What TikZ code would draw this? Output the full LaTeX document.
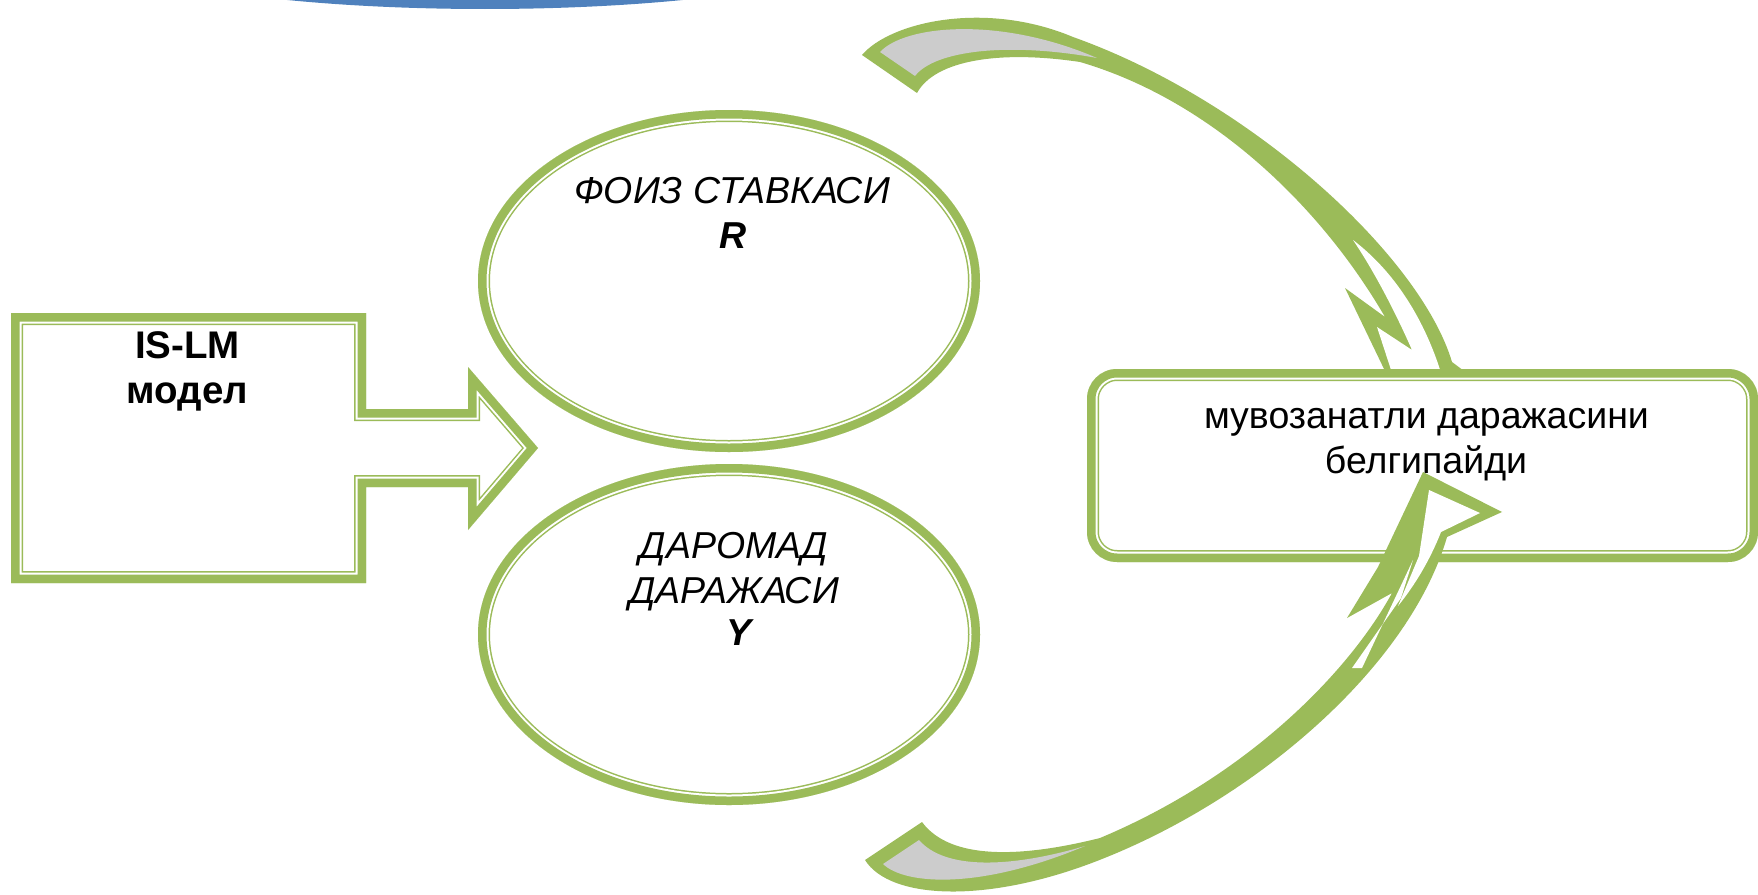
\documentclass[tikz,border=0pt]{standalone}
\usepackage{fontspec}
\setmainfont{Liberation Sans}
\definecolor{leaf}{HTML}{9BBB59}
\definecolor{backgray}{HTML}{CCCCCC}
\definecolor{capblue}{HTML}{4F81BD}
% thick-thin compound outline: thick band outside, thin line inside
\newcommand\ringedshape[1]{%
  \fill[white,#1];
  \begin{scope}
    \clip[#1];
    \draw[leaf,line width=24pt,line join=miter,#1];
    \draw[white,line width=21pt,line join=miter,#1];
    \draw[leaf,line width=17pt,line join=miter,#1];
  \end{scope}}
\begin{document}
\begin{tikzpicture}[x=1pt,y=-1pt,
  every node/.style={inner sep=0pt,outer sep=0pt,anchor=base},
  ital/.style={font=\fontsize{37.5}{44}\selectfont\itshape},
  italb/.style={font=\fontsize{37.5}{44}\selectfont\bfseries\itshape},
  boldtxt/.style={font=\fontsize{38.5}{46}\selectfont\bfseries},
  plaintxt/.style={font=\fontsize{37.5}{45}\selectfont},
  islmpath/.style={insert path={(11,313) -- (366,313) -- (366,409) -- (468,409)
      -- (468,367) -- (538,448) -- (468,530) -- (468,487) -- (366,487)
      -- (366,583) -- (11,583) -- cycle}},
  ratepath/.style={insert path={(729,281) ellipse [x radius=251, y radius=171]}},
  incomepath/.style={insert path={(729,634.5) ellipse [x radius=251, y radius=170.5]}},
  resultpath/.style={rounded corners=30pt,
      insert path={(1087,369) rectangle (1758,562)}}]
\useasboundingbox (0,0) rectangle (1758,894);

% blue cap along the top edge
\fill[capblue] (485,-60) ellipse [x radius=400, y radius=69];

% block arrow with the model name
\ringedshape{islmpath}
\node[boldtxt] (islm) at (187.5,358) {IS-LM};
\node[boldtxt] (model) at (187.5,403) {модел};

% the two ellipses
\ringedshape{ratepath}
\node[ital] (rate) at (732,203) {ФОИЗ СТАВКАСИ};
\node[italb] (rsym) at (733,248) {R};

\ringedshape{incomepath}
\node[ital] (inc1) at (734,558) {ДАРОМАД};
\node[ital] (inc2) at (734,603) {ДАРАЖАСИ};
\node[italb] (ysym) at (739,645) {Y};

% upper curved arrow (its head runs under the result box)
\fill[leaf] (862,55) .. controls (890,22) and (985,0) .. (1073,37)
  .. controls (1250,100) and (1420,255) .. (1452,362)
  -- (1468,374) -- (1430,400) -- (1398,398) -- (1345,288) -- (1385,317)
  .. controls (1320,205) and (1210,100) .. (1080,62)
  .. controls (1000,50) and (935,60) .. (917,93) -- cycle;
\fill[backgray] (880,52) .. controls (905,25) and (1000,16) .. (1097,58)
  .. controls (1010,42) and (935,50) .. (915,76) -- cycle;
\fill[white] (1353,240) .. controls (1368,262) and (1390,300) .. (1412,350)
  -- (1377,327) -- (1393,376) -- (1442,376)
  .. controls (1425,320) and (1395,272) .. (1353,240) -- cycle;

% result box
\ringedshape{resultpath}
\node[plaintxt] (eq1) at (1426.5,428) {мувозанатли даражасини};
\node[plaintxt] (eq2) at (1426,473) {белгипайди};

% lower curved arrow (its head lies over the result box)
\fill[leaf] (865,860) .. controls (890,900) and (990,905) .. (1107,857)
  .. controls (1260,795) and (1410,665) .. (1447,537)
  -- (1502,512) -- (1423,472) -- (1378,567) -- (1347,618) -- (1392,593)
  .. controls (1350,670) and (1250,775) .. (1100,838)
  .. controls (1020,858) and (950,860) .. (922,822) -- cycle;
\fill[backgray] (883,864) .. controls (905,885) and (980,890) .. (1085,846)
  .. controls (1010,868) and (945,870) .. (919,840) -- cycle;
\fill[white] (1429,490) -- (1480,513) -- (1441,532)
  .. controls (1430,560) and (1415,585) .. (1398,606) -- (1419,556) -- cycle;
\fill[white] (1352,668) -- (1401,598) -- (1413,560) -- (1362,668) -- cycle;
\end{tikzpicture}
\end{document}
